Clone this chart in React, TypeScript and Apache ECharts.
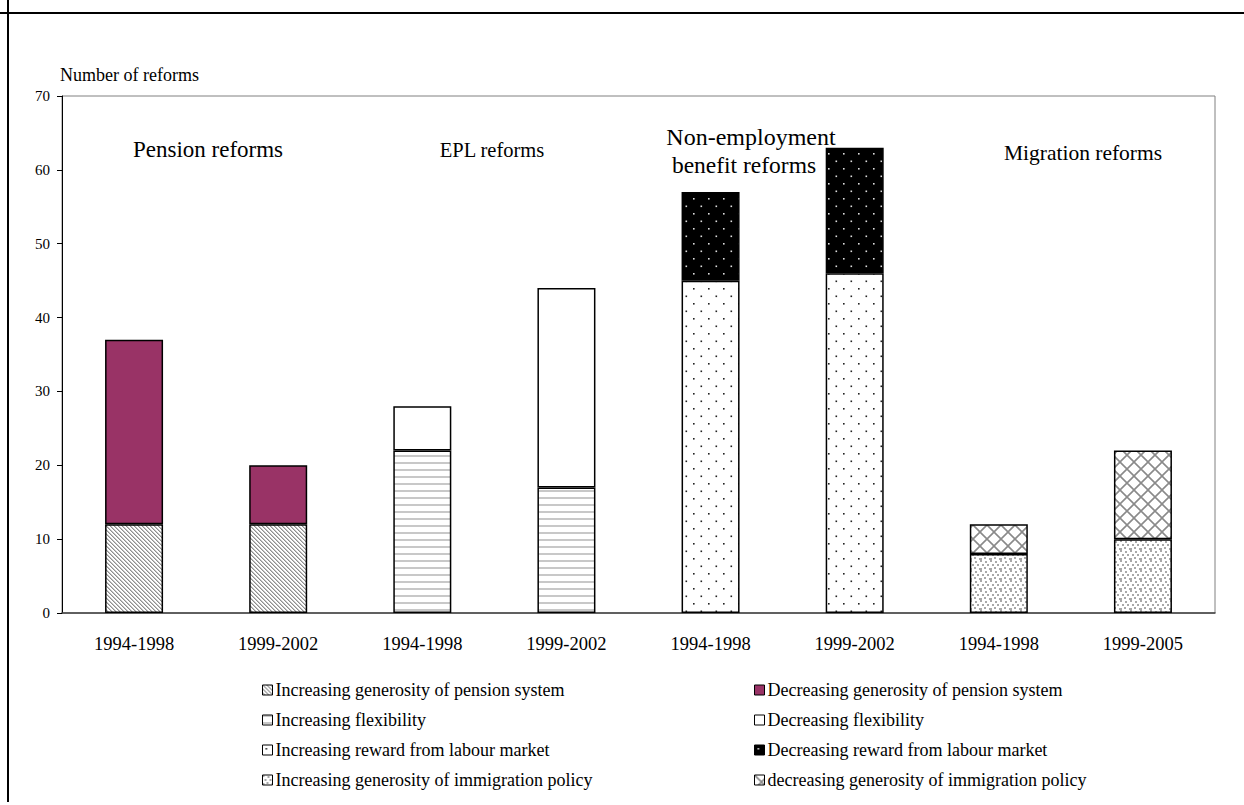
import React, { useEffect, useRef } from "react";
import * as echarts from "echarts";

const categories = ["1994-1998", "1999-2002", "1994-1998", "1999-2002", "1994-1998", "1999-2002", "1994-1998", "1999-2005"];
const yTicks = [0, 10, 20, 30, 40, 50, 60, 70];

const incPension = [12, 12, null, null, null, null, null, null];
const decPension = [25, 8, null, null, null, null, null, null];
const incFlex = [null, null, 22, 17, null, null, null, null];
const decFlex = [null, null, 6, 27, null, null, null, null];
const incReward = [null, null, null, null, 45, 46, null, null];
const decReward = [null, null, null, null, 12, 17, null, null];
const incImmig = [null, null, null, null, null, null, 8, 10];
const decImmig = [null, null, null, null, null, null, 4, 12];

const seriesNames = [
  "Increasing generosity of pension system",
  "Decreasing generosity of pension system",
  "Increasing flexibility",
  "Decreasing flexibility",
  "Increasing reward from labour market",
  "Decreasing reward from labour market",
  "Increasing generosity of immigration policy",
  "decreasing generosity of immigration policy",
];
const seriesValues = [incPension, decPension, incFlex, decFlex, incReward, decReward, incImmig, decImmig];

const groupLabels = ["Pension reforms", "EPL reforms", "Non-employment", "benefit reforms", "Migration reforms"];

const FONT = "Liberation Serif";

function tile(w: number, h: number, draw: (ctx: CanvasRenderingContext2D) => void) {
  const c = document.createElement("canvas");
  c.width = w;
  c.height = h;
  const ctx = c.getContext("2d") as CanvasRenderingContext2D;
  draw(ctx);
  return { image: c, repeat: "repeat", imageWidth: w, imageHeight: h } as any;
}

function makePatterns() {
  const diag = tile(4, 4, (ctx) => {
    ctx.fillStyle = "#fff";
    ctx.fillRect(0, 0, 4, 4);
    for (let y = 0; y < 4; y++) for (let x = 0; x < 4; x++) {
      const d = (((x - y) % 4) + 4) % 4;
      if (d === 0) { ctx.fillStyle = "#8f8f8f"; ctx.fillRect(x, y, 1, 1); }
      if (d === 1) { ctx.fillStyle = "#c4c4c4"; ctx.fillRect(x, y, 1, 1); }
    }
  });
  const plum = "#993366";
  const hlines = tile(8, 7, (ctx) => {
    ctx.fillStyle = "#fff";
    ctx.fillRect(0, 0, 8, 7);
    ctx.fillStyle = "#c8c8c8";
    ctx.fillRect(0, 0, 8, 2);
  });
  const white = "#ffffff";
  const dotsW = tile(15, 15, (ctx) => {
    ctx.fillStyle = "#fff";
    ctx.fillRect(0, 0, 15, 15);
    ctx.fillStyle = "#222";
    ctx.fillRect(3, 3, 1.6, 1.6);
    ctx.fillRect(10.5, 10.5, 1.6, 1.6);
  });
  const dotsB = tile(15, 15, (ctx) => {
    ctx.fillStyle = "#000";
    ctx.fillRect(0, 0, 15, 15);
    ctx.fillStyle = "#ddd";
    ctx.fillRect(3, 3, 1.6, 1.6);
    ctx.fillRect(10.5, 10.5, 1.6, 1.6);
  });
  const speck = tile(10, 10, (ctx) => {
    ctx.fillStyle = "#fff";
    ctx.fillRect(0, 0, 10, 10);
    ctx.fillStyle = "#a8a8a8";
    const pts = [[0, 0], [5, 1], [2, 4], [7, 4], [4, 7], [9, 8], [0, 8]];
    pts.forEach(([x, y]) => ctx.fillRect(x, y, 2, 2));
  });
  const cross = tile(14, 14, (ctx) => {
    ctx.fillStyle = "#fff";
    ctx.fillRect(0, 0, 14, 14);
    ctx.strokeStyle = "#8a8a8a";
    ctx.lineWidth = 1.6;
    ctx.beginPath();
    ctx.moveTo(-1, -1); ctx.lineTo(15, 15);
    ctx.moveTo(15, -1); ctx.lineTo(-1, 15);
    ctx.stroke();
  });
  return [diag, plum, hlines, white, dotsW, dotsB, speck, cross];
}

function label(text: string, x: number, y: number, size: number) {
  return {
    type: "text",
    x,
    y,
    style: { text, fontFamily: FONT, fontSize: size, fill: "#000", align: "center", verticalAlign: "middle" },
  };
}

export default function App() {
  const ref = useRef<HTMLDivElement>(null);
  useEffect(() => {
    if (!ref.current) return;
    const chart = echarts.init(ref.current, null, { renderer: "svg" });
    const fills = makePatterns();
    const series = seriesNames.map((name, i) => ({
      name,
      type: "bar",
      stack: "total",
      barWidth: 58,
      data: seriesValues[i],
      itemStyle: { color: fills[i], borderColor: "#000", borderWidth: 1.5 },
    }));
    const legendCommon = {
      orient: "vertical",
      top: 676,
      itemWidth: 10,
      itemHeight: 10,
      itemGap: 12,
      icon: "rect",
      selectedMode: false,
      itemStyle: { borderColor: "#000", borderWidth: 1 },
      textStyle: { fontFamily: FONT, fontSize: 18, color: "#000", lineHeight: 18, padding: [0, 0, 0, -2] },
    };
    chart.setOption({
      animation: false,
      backgroundColor: "#fff",
      grid: { left: 62, right: 29, top: 96, bottom: 192, show: true, borderColor: "#808080", borderWidth: 1 },
      legend: [
        { ...legendCommon, left: 257, data: [seriesNames[0], seriesNames[2], seriesNames[4], seriesNames[6]] },
        { ...legendCommon, left: 749, data: [seriesNames[1], seriesNames[3], seriesNames[5], seriesNames[7]] },
      ],
      xAxis: {
        type: "category",
        data: categories,
        axisLine: { lineStyle: { color: "#404040", width: 1.5 } },
        axisTick: { length: 6, lineStyle: { color: "#000" } },
        axisLabel: { fontFamily: FONT, fontSize: 18.5, color: "#000", margin: 21 },
      },
      yAxis: {
        type: "value",
        min: yTicks[0],
        max: yTicks[yTicks.length - 1],
        interval: 10,
        name: "Number of reforms",
        nameLocation: "end",
        nameGap: 12,
        nameTextStyle: { fontFamily: FONT, fontSize: 18, color: "#000", align: "left", padding: [0, 0, 0, -2] },
        axisLine: { show: true, lineStyle: { color: "#000", width: 1 } },
        axisTick: { show: true, length: 5, lineStyle: { color: "#000" } },
        splitLine: { show: false },
        axisLabel: { fontFamily: FONT, fontSize: 15, color: "#000", margin: 12 },
      },
      series,
      graphic: [
        { type: "line", shape: { x1: 0, y1: 13, x2: 1244, y2: 13 }, style: { stroke: "#000", lineWidth: 2 }, z: 100 },
        { type: "line", shape: { x1: 8, y1: 0, x2: 8, y2: 802 }, style: { stroke: "#000", lineWidth: 2 }, z: 100 },
        label(groupLabels[0], 208, 149, 23),
        label(groupLabels[1], 492, 150, 20.5),
        label(groupLabels[2], 751, 137, 24),
        label(groupLabels[3], 744, 165, 23.5),
        label(groupLabels[4], 1083, 153, 21.5),
      ],
    });
    return () => chart.dispose();
  }, []);
  return <div ref={ref} style={{ position: "absolute", left: 0, top: 0, width: 1244, height: 805 }} />;
}
